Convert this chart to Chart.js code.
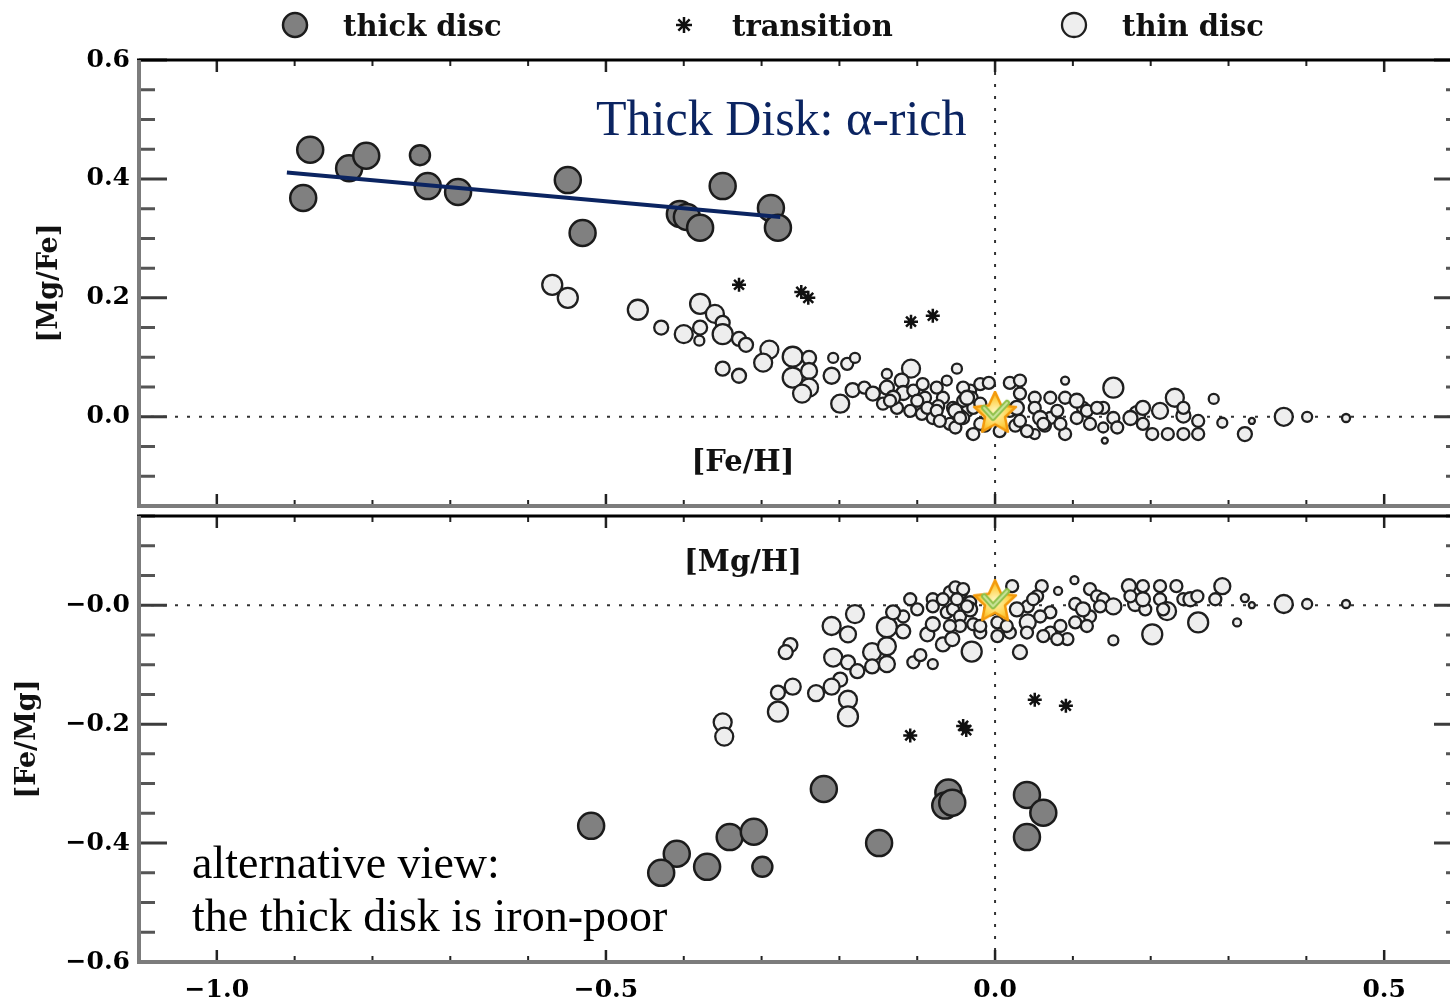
<!DOCTYPE html>
<html>
<head>
<meta charset="utf-8">
<script src="https://cdn.jsdelivr.net/npm/chart.js@4.4.0/dist/chart.umd.min.js"></script>
<style>
  html, body { margin: 0; padding: 0; background: #fff; overflow: hidden; }
  body { width: 1450px; height: 1007px; position: relative; }
  #top { position: absolute; left: 0; top: 0; width: 1462px; height: 510px; }
  #bot { position: absolute; left: 0; top: 510px; width: 1462px; height: 497px; }
</style>
</head>
<body>
<div id="top"><canvas id="cTop"></canvas></div>
<div id="bot"><canvas id="cBot"></canvas></div>

<script>
// ---- upper panel: [Mg/Fe] vs [Fe/H] ----
var thickFeH  = [-0.880,-0.889,-0.830,-0.808,-0.739,-0.729,-0.690,-0.549,-0.530,-0.405,-0.396,-0.379,-0.350,-0.288,-0.279];
var thickMgFe = [ 0.449, 0.368, 0.418, 0.439, 0.440, 0.388, 0.378, 0.398, 0.309, 0.341, 0.336, 0.318, 0.388, 0.351, 0.318];
var thickSizeTop = [13,13,13,13,10,13,13,13,13,13,13,13,13,13,13];

var transFeH  = [-0.329,-0.249,-0.240,-0.108,-0.080];
var transMgFe = [ 0.222, 0.210, 0.200, 0.160, 0.170];

var thinFeH = [
  -0.569,-0.549,-0.459,-0.429,-0.400,-0.379,-0.379,-0.360,-0.350,-0.350,
  -0.380,-0.329,-0.320,-0.350,-0.329,-0.290,-0.298,-0.260,-0.239,-0.260,
  -0.239,-0.239,-0.248,-0.208,-0.190,-0.180,-0.210,-0.199,-0.183,-0.168,
  -0.157,-0.139,-0.139,-0.108,-0.120,-0.118,-0.105,-0.144,-0.126,-0.109,
  -0.094,-0.080,-0.062,-0.049,-0.067,-0.054,-0.058,-0.032,-0.019,-0.030,
  -0.036,-0.030,-0.008, 0.019, 0.032, 0.032, 0.019, 0.051, 0.051, 0.051,
   0.071, 0.071, 0.090, 0.090, 0.090, 0.113, 0.105, 0.139, 0.139, 0.152,
   0.152, 0.141, 0.183, 0.190, 0.202, 0.212, 0.231, 0.242, 0.222, 0.242,
   0.261, 0.261, 0.281, 0.292, 0.321, 0.330, 0.371, 0.401, 0.451,
  -0.090,-0.073,-0.045,-0.013, 0.006, 0.026, 0.064,
  -0.041,-0.041,-0.041,-0.051,-0.051,-0.028,-0.019,-0.028, 0.028, 0.032,
   0.041, 0.058, 0.062, 0.080, 0.084, 0.105, 0.118, 0.122, 0.131, 0.157,
   0.174, 0.190, 0.242,-0.131,-0.100,-0.087,-0.075,-0.071,-0.045,-0.036,
  -0.019,-0.135,-0.093,-0.075];
var thinMgFe = [
   0.222, 0.200, 0.180, 0.150, 0.139, 0.190, 0.150, 0.173, 0.158, 0.139,
   0.128, 0.131, 0.121, 0.081, 0.069, 0.113, 0.091, 0.101, 0.099, 0.066,
   0.077, 0.049, 0.039, 0.099, 0.089, 0.099, 0.069, 0.022, 0.045, 0.049,
   0.039, 0.072, 0.049, 0.081, 0.061, 0.040, 0.044, 0.022, 0.015, 0.010,
   0.005,-0.002, 0.061, 0.081, 0.032, 0.015,-0.012, 0.044, 0.055,-0.029,
   0.010, 0.032, 0.057, 0.057, 0.061, 0.039, 0.010, 0.032, 0.015,-0.029,
   0.032,-0.002, 0.061, 0.032,-0.029, 0.015,-0.002, 0.015,-0.018, 0.049,
  -0.002,-0.040, 0.005, 0.015,-0.029, 0.010, 0.032, 0.002,-0.029,-0.029,
  -0.007,-0.029, 0.030,-0.010,-0.029,-0.007, 0.000, 0.000,-0.002,
   0.032, 0.018, 0.002,-0.015,-0.024,-0.015,-0.015,
   0.049, 0.027,-0.002, 0.010,-0.018, 0.015,-0.012,-0.029, 0.015,-0.007,
  -0.024,-0.002,-0.012, 0.010,-0.012, 0.027, 0.010,-0.012, 0.015,-0.018,
  -0.002,-0.012, 0.015, 0.032, 0.027, 0.015, 0.010,-0.007,-0.002, 0.032,
   0.022, 0.027, 0.055, 0.049];
var thinSizeTop = [
  10,10,10,7,9,10,7,9,7,10,
  5,7,7,7,7,9,9,10,7,10,
  8,9,9,5,6,5,8,9,7,6,
  7,5,7,9,7,7,6,6,6,6,
  6,6,5,5,6,6,6,6,6,5,
  6,6,6,6,6,6,6,6,6,5,
  6,6,4,6,6,6,6,6,5,10,
  6,3,8,7,6,8,9,7,6,6,
  6,6,5,5,7,3,9,5,4,
  6,6,6,6,6,6,6,
  6,6,6,7,6,6,6,6,7,6,
  6,7,6,6,6,7,6,6,6,6,
  7,6,6,7,6,6,6,6,6,7,
  6,6,6,6];

// linear fit through the thick disc stars
var fitFeH  = [-0.910, -0.276];
var fitMgFe = [ 0.411,  0.336];

// ---- lower panel: [Fe/Mg] vs [Mg/H] ----
var thickMgH  = [-0.519,-0.409,-0.429,-0.370,-0.341,-0.310,-0.299,-0.220,-0.149,-0.060,-0.064,-0.055, 0.041, 0.062, 0.041];
var thickFeMg = [-0.371,-0.418,-0.450,-0.440,-0.390,-0.381,-0.440,-0.309,-0.400,-0.315,-0.337,-0.332,-0.319,-0.349,-0.390];
var thickSizeBot = [13,13,13,13,13,13,10,13,13,13,13,13,13,13,13];

var transMgH  = [-0.109,-0.041,-0.037, 0.051, 0.091];
var transFeMg = [-0.219,-0.203,-0.210,-0.159,-0.169];

var thinMgH = [
  -0.180,-0.210,-0.189,-0.263,-0.269,-0.208,-0.189,-0.177,-0.158,-0.139,
  -0.139,-0.158,-0.139,-0.118,-0.118,-0.105,-0.096,-0.080,-0.087,-0.067,
  -0.055,-0.080,-0.062,-0.045,-0.109,-0.080,-0.058,-0.030,-0.019,-0.028,
  -0.199,-0.210,-0.230,-0.260,-0.279,-0.279,-0.189,-0.189,-0.350,-0.348,
  -0.051,-0.041,-0.032,-0.054,-0.019, 0.003, 0.022, 0.019, 0.032, 0.042,
   0.042, 0.060, 0.054, 0.071, 0.071, 0.084, 0.093, 0.081, 0.102, 0.103,
   0.103, 0.122, 0.122, 0.131, 0.139, 0.152, 0.152, 0.172, 0.180, 0.190,
   0.193, 0.202, 0.212, 0.212, 0.221, 0.233, 0.242, 0.251, 0.261, 0.292,
   0.283, 0.311, 0.321, 0.330, 0.371, 0.401, 0.451,
  -0.049,-0.045,-0.032,-0.006, 0.003, 0.015, 0.028, 0.049, 0.058, 0.062,
   0.080, 0.113, 0.118, 0.135, 0.174, 0.190, 0.216, 0.260, 0.041,-0.131,
  -0.100,-0.080,-0.067,-0.036,-0.045,-0.058];
var thinFeMg = [
  -0.015,-0.035,-0.049,-0.067,-0.079,-0.088,-0.096,-0.111,-0.079,-0.069,
  -0.037,-0.103,-0.099,-0.044,-0.019,-0.096,-0.084,-0.099,-0.049,-0.066,
  -0.057,-0.032,-0.012, 0.022, 0.010, 0.010, 0.022,-0.078,-0.046,-0.032,
  -0.125,-0.137,-0.148,-0.137,-0.147,-0.179,-0.159,-0.187,-0.197,-0.221,
   0.030, 0.027, 0.005,-0.007,-0.035,-0.029, 0.032,-0.046,-0.079,-0.002,
  -0.029, 0.032, 0.015,-0.012,-0.046,-0.035,-0.057, 0.024, 0.042, 0.002,
  -0.029, 0.027,-0.019, 0.015, 0.010,-0.002,-0.059, 0.032, 0.002, 0.032,
  -0.007,-0.049, 0.032, 0.010,-0.010, 0.032, 0.010, 0.010,-0.029, 0.032,
   0.010,-0.029, 0.012, 0.000, 0.002, 0.002, 0.002,
   0.010,-0.019,-0.007,-0.007,-0.052,-0.035,-0.007, 0.010,-0.019,-0.052,
  -0.057,-0.007,-0.035,-0.002, 0.015, 0.010,-0.007, 0.015,-0.046,-0.012,
  -0.007,-0.002, 0.010,-0.002,-0.035,-0.035];
var thinSizeBot = [
  9,9,8,7,7,9,7,7,9,9,
  10,7,8,7,6,6,6,5,7,7,
  7,7,6,7,6,6,6,10,6,6,
  7,8,8,8,7,10,9,10,9,9,
  6,6,6,6,6,6,6,6,7,6,
  8,6,6,6,6,6,6,4,4,6,
  6,6,6,6,6,8,5,7,7,6,
  6,10,6,6,9,6,6,7,10,8,
  6,4,4,3,9,5,4,
  6,6,7,6,6,6,7,6,6,6,
  6,7,6,6,6,7,6,6,6,7,
  6,6,6,6,6,6];

// the Sun sits at the origin of both panels
var sunX = [0], sunY = [0];

// axis ticks and their labels (ascending)
var xTicks  = [-1.0, -0.5, 0.0, 0.5];
var xLabels = ['\u22121.0', '\u22120.5', '0.0', '0.5'];
var yTicksTop  = [0.0, 0.2, 0.4, 0.6];
var yLabelsTop = ['0.0', '0.2', '0.4', '0.6'];
var yTicksBot  = [-0.6, -0.4, -0.2, 0.0];
var yLabelsBot = ['\u22120.6', '\u22120.4', '\u22120.2', '\u22120.0'];

var SERIF_B = "'DejaVu Serif'";
var TXT = "'Liberation Serif', 'DejaVu Serif', serif";

function pts(xs, ys) {
  return xs.map(function (v, i) { return {x: v, y: ys[i]}; });
}

// little sun marker: orange star with a green tick
function sunIcon() {
  var c = document.createElement('canvas');
  c.width = 52; c.height = 52;
  var g = c.getContext('2d');
  var cx = 26, cy = 23;
  g.beginPath();
  for (var i = 0; i < 10; i++) {
    var r = i % 2 ? 10.5 : 22, a = -Math.PI / 2 + i * Math.PI / 5;
    g.lineTo(cx + r * Math.cos(a), cy + r * Math.sin(a));
  }
  g.closePath();
  var grd = g.createRadialGradient(cx, cy - 2, 2, cx, cy, 22);
  grd.addColorStop(0, '#fff3b0');
  grd.addColorStop(0.6, '#ffd24a');
  grd.addColorStop(1, '#f5a410');
  g.fillStyle = grd; g.fill();
  g.lineWidth = 2.5; g.lineJoin = 'round'; g.strokeStyle = '#f39a0b'; g.stroke();
  g.beginPath();
  g.moveTo(cx - 11, cy - 6); g.lineTo(cx - 2, cy + 4); g.lineTo(cx + 12, cy - 11);
  g.lineWidth = 6; g.lineCap = 'round'; g.strokeStyle = '#8fc04a'; g.stroke();
  g.lineWidth = 2; g.strokeStyle = '#c9e49a'; g.stroke();
  return c;
}
var SUN = sunIcon();

function makeDatasets(thinP, thinR, thickP, thickR, transP, fitP) {
  var ds = [];
  ds.push({label: 'Sun', data: pts(sunX, sunY), pointStyle: SUN, pointRadius: 22});
  if (fitP) {
    ds.push({label: 'fit', data: fitP, showLine: true, borderColor: '#0b2461',
             borderWidth: 4, pointRadius: 0, fill: false});
  }
  ds.push({label: 'thick disc', data: thickP, pointStyle: 'circle', pointRadius: thickR,
           backgroundColor: '#808080', borderColor: '#1b1b1b', borderWidth: 2.5});
  ds.push({label: 'transition', data: transP, pointStyle: 'star', pointRadius: 7,
           backgroundColor: '#111', borderColor: '#111', borderWidth: 2.5});
  ds.push({label: 'thin disc', data: thinP, pointStyle: 'circle', pointRadius: thinR,
           backgroundColor: '#eeeeee', borderColor: '#1f1f1f', borderWidth: 2.3});
  return ds;
}

// IDL-like frame: inward ticks on all four sides, dotted zero lines, in-plot text
var framePlugin = {
  id: 'frame',
  beforeDatasetsDraw: function (chart) {
    var ctx = chart.ctx, a = chart.chartArea, x = chart.scales.x, y = chart.scales.y;
    var x0 = x.getPixelForValue(0), y0 = y.getPixelForValue(0);
    ctx.save();
    ctx.setLineDash([3, 9]);
    ctx.lineWidth = 2;
    ctx.strokeStyle = '#333';
    ctx.beginPath();
    ctx.moveTo(a.left, y0); ctx.lineTo(a.right, y0);
    ctx.moveTo(x0, a.top); ctx.lineTo(x0, a.bottom);
    ctx.stroke();
    ctx.restore();
  },
  afterDraw: function (chart, args, opts) {
    var ctx = chart.ctx, a = chart.chartArea, x = chart.scales.x, y = chart.scales.y;
    ctx.save();
    // x ticks every 0.1, long ones every 0.5
    ctx.strokeStyle = '#222';
    for (var k = -11; k <= 6; k++) {
      var v = k / 10, px = x.getPixelForValue(v);
      var major = (k % 5 === 0);
      var len = major ? 12 : 6;
      ctx.lineWidth = major ? 2.5 : 2;
      ctx.beginPath();
      ctx.moveTo(px, a.top); ctx.lineTo(px, a.top + len);
      ctx.moveTo(px, a.bottom); ctx.lineTo(px, a.bottom - len);
      ctx.stroke();
    }
    // y ticks every 0.05, long ones every 0.2
    for (var j = -12; j <= 12; j++) {
      var yv = j / 20;
      if (yv < y.min - 1e-9 || yv > y.max + 1e-9) continue;
      var py = y.getPixelForValue(yv);
      var maj = (j % 4 === 0);
      var l = maj ? 28 : 16;
      ctx.lineWidth = 3;
      ctx.strokeStyle = maj ? '#3c3c3c' : '#555';
      ctx.beginPath();
      ctx.moveTo(a.left, py); ctx.lineTo(a.left + l, py);
      ctx.moveTo(a.right, py); ctx.lineTo(a.right - l, py);
      ctx.stroke();
    }
    // borders
    ctx.lineWidth = 3; ctx.strokeStyle = '#000';
    ctx.beginPath(); ctx.moveTo(a.left - 2, a.top); ctx.lineTo(a.right, a.top); ctx.stroke();
    ctx.lineWidth = 4; ctx.strokeStyle = '#7c7c7c';
    ctx.beginPath(); ctx.moveTo(a.left, a.top); ctx.lineTo(a.left, a.bottom); ctx.stroke();
    ctx.beginPath(); ctx.moveTo(a.left - 2, a.bottom); ctx.lineTo(a.right, a.bottom); ctx.stroke();

    // text inside the panel
    (opts.notes || []).forEach(function (n) {
      ctx.font = n.font;
      ctx.fillStyle = n.color || '#000';
      ctx.textAlign = n.align || 'left';
      ctx.textBaseline = 'alphabetic';
      ctx.fillText(n.text, n.x, n.y);
    });

    // legend across the top
    if (opts.legend) {
      var items = [
        {ds: chart.data.datasets.find(function (d) { return d.label === 'thick disc'; }), cx: 295, r: 12},
        {ds: chart.data.datasets.find(function (d) { return d.label === 'transition'; }), cx: 684, r: 8},
        {ds: chart.data.datasets.find(function (d) { return d.label === 'thin disc'; }), cx: 1074, r: 12}
      ];
      items.forEach(function (it) {
        ctx.fillStyle = it.ds.backgroundColor;
        ctx.strokeStyle = it.ds.borderColor;
        ctx.lineWidth = it.ds.borderWidth;
        Chart.helpers.drawPoint(ctx, {pointStyle: it.ds.pointStyle, radius: it.r,
                                      borderWidth: it.ds.borderWidth, rotation: 0}, it.cx, 25);
        ctx.fillStyle = '#111';
        ctx.font = 'bold 29px ' + SERIF_B;
        ctx.textAlign = 'left';
        ctx.textBaseline = 'alphabetic';
        ctx.fillText(it.ds.label, it.cx + 48, 36);
      });
    }
    ctx.restore();
  }
};

function makeChart(id, cfg) {
  return new Chart(document.getElementById(id), {
    type: 'scatter',
    data: {datasets: cfg.datasets},
    options: {
      responsive: true,
      maintainAspectRatio: false,
      animation: false,
      layout: {padding: cfg.padding, autoPadding: false},
      plugins: {
        legend: {display: false},
        tooltip: {enabled: false},
        frame: {notes: cfg.notes, legend: cfg.legend}
      },
      scales: {
        x: {
          type: 'linear', min: -1.1, max: 0.6,
          grid: {display: false, drawTicks: false},
          border: {display: false},
          afterBuildTicks: function (s) { s.ticks = xTicks.map(function (v) { return {value: v}; }); },
          afterFit: function (s) { s.height = cfg.xHeight; s.paddingLeft = 0; s.paddingRight = 0; },
          ticks: {
            display: cfg.xLabels, padding: 13, color: '#000',
            font: {family: SERIF_B, size: 25, weight: 'bold'},
            maxRotation: 0, autoSkip: false,
            callback: function (v) { return xLabels[xTicks.indexOf(v)]; }
          }
        },
        y: {
          type: 'linear', min: cfg.yMin, max: cfg.yMax,
          grid: {display: false, drawTicks: false},
          border: {display: false},
          afterBuildTicks: function (s) { s.ticks = cfg.yTicks.map(function (v) { return {value: v}; }); },
          afterFit: function (s) { s.width = 139; s.paddingTop = 0; s.paddingBottom = 0; },
          ticks: {
            padding: 9, color: '#000',
            font: {family: SERIF_B, size: 25, weight: 'bold'},
            autoSkip: false,
            callback: function (v) { return cfg.yLabels[cfg.yTicks.indexOf(v)]; }
          },
          title: {
            display: true, text: cfg.yTitle, color: '#111',
            font: {family: SERIF_B, size: 27, weight: 'bold'},
            padding: {top: cfg.titlePad, bottom: 0}
          }
        }
      }
    },
    plugins: [framePlugin]
  });
}

makeChart('cTop', {
  datasets: makeDatasets(pts(thinFeH, thinMgFe), thinSizeTop,
                         pts(thickFeH, thickMgFe), thickSizeTop,
                         pts(transFeH, transMgFe), pts(fitFeH, fitMgFe)),
  padding: {top: 60, right: 0, bottom: 4, left: 0},
  xHeight: 0, xLabels: false,
  yMin: -0.15, yMax: 0.6, yTicks: yTicksTop, yLabels: yLabelsTop,
  yTitle: '[Mg/Fe]', titlePad: 34,
  legend: true,
  notes: [
    {text: 'Thick Disk: \u03b1-rich', x: 596, y: 135, font: '50px ' + TXT, color: '#0b2461'},
    {text: '[Fe/H]', x: 743, y: 471, font: 'bold 29px ' + SERIF_B, color: '#111', align: 'center'}
  ]
});

makeChart('cBot', {
  datasets: makeDatasets(pts(thinMgH, thinFeMg), thinSizeBot,
                         pts(thickMgH, thickFeMg), thickSizeBot,
                         pts(transMgH, transFeMg), null),
  padding: {top: 6, right: 0, bottom: 0, left: 0},
  xHeight: 45, xLabels: true,
  yMin: -0.6, yMax: 0.15, yTicks: yTicksBot, yLabels: yLabelsBot,
  yTitle: '[Fe/Mg]', titlePad: 12,
  legend: false,
  notes: [
    {text: '[Mg/H]', x: 743, y: 61, font: 'bold 29px ' + SERIF_B, color: '#111', align: 'center'},
    {text: 'alternative view:', x: 192, y: 368, font: '46px ' + TXT, color: '#000'},
    {text: 'the thick disk is iron-poor', x: 192, y: 421, font: '46px ' + TXT, color: '#000'}
  ]
});
</script>
</body>
</html>
